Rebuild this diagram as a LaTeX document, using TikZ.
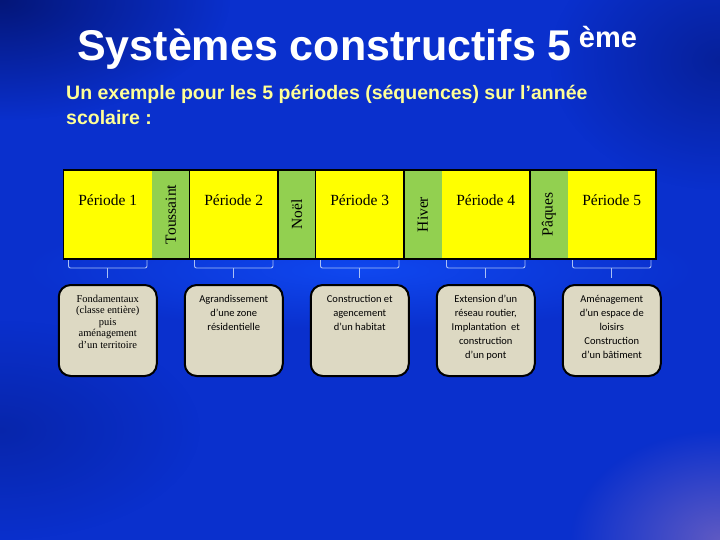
\documentclass[tikz,border=0pt]{standalone}
\usepackage{xcolor}
\usepackage{fontspec}
\usepackage{tikz}
\usetikzlibrary{calc}
\usetikzlibrary{positioning}
\usetikzlibrary{fadings}

\setmainfont{Liberation Sans}
\newfontfamily\cellfont{Liberation Serif}
\newfontfamily\boxfont{Carlito}

\definecolor{bgdark}{RGB}{4,22,120}
\definecolor{bgside}{RGB}{10,48,205}
\definecolor{bgbright}{RGB}{18,82,255}
\definecolor{bgpurple}{RGB}{95,90,195}
\definecolor{subyellow}{RGB}{255,255,150}
\definecolor{cellyellow}{RGB}{255,255,0}
\definecolor{cellgreen}{RGB}{146,208,80}
\definecolor{boxbeige}{RGB}{221,217,195}
\definecolor{bracketblue}{RGB}{170,192,245}

\tikzfading[name=glow, inner color=transparent!0, outer color=transparent!100]

\begin{document}
\begin{tikzpicture}[
		x=1pt,
		y=1pt,
		font=\fontsize{10pt}{12pt}\selectfont,
	]
		\tikzset{periodcell/.style={
			fill=cellyellow,
			anchor=north west,
			minimum width=88.5,
			minimum height=89,
			inner sep=0,
			outer sep=0,
		}}
		\tikzset{breakcell/.style={
			fill=cellgreen,
			anchor=north west,
			minimum width=37.5,
			minimum height=89,
			inner sep=0,
			outer sep=0,
		}}
		\tikzset{periodlabel/.style={
			anchor=base,
			inner sep=0,
			font=\cellfont\fontsize{15.5pt}{16pt}\selectfont,
		}}
		\tikzset{breaklabel/.style={
			rotate=90,
			inner sep=0,
			font=\cellfont\fontsize{15.5pt}{16pt}\selectfont,
		}}
		\tikzset{taskbox/.style={
			draw,
			line width=2,
			rounded corners=12,
			fill=boxbeige,
			minimum width=98,
			minimum height=91,
			inner sep=0,
		}}
		\tikzset{tasktext/.style={
			align=center,
			inner sep=0,
			font=\boxfont\fontsize{10.5pt}{14pt}\selectfont,
		}}
		\tikzset{bracket/.style={
			draw=bracketblue,
			line width=0.9,
			rounded corners=2,
		}}

		%---------------------------------
		% Background
		\useasboundingbox (0,0) rectangle (720,-540);
		\shade[
			left color=bgside,
			middle color=bgbright,
			right color=bgside,
		] (0,0) rectangle (720,-540);
		\fill[bgdark, path fading=glow] (0,0) ellipse (230 and 120);
		\fill[bgdark, path fading=glow, opacity=0.6] (720,-60) ellipse (170 and 130);
		\fill[bgdark, path fading=glow, opacity=0.4] (0,-430) ellipse (200 and 110);
		\fill[bgpurple, path fading=glow] (720,-540) ellipse (150 and 110);
		\fill[bgbright, path fading=glow, opacity=0.7] (360,-270) ellipse (340 and 60);

		%---------------------------------
		% Title
		\node[
			anchor=base west,
			inner sep=0,
			text=white,
			font=\fontsize{43pt}{43pt}\selectfont\bfseries,
		] (title) at (77,-61) {Systèmes constructifs 5\kern7pt\raisebox{13pt}{\fontsize{29pt}{29pt}\selectfont ème}};

		\node[
			anchor=base west,
			inner sep=0,
			align=left,
			text=subyellow,
			font=\fontsize{19.5pt}{25pt}\selectfont\bfseries,
		] (subtitle) at (66,-125) {Un exemple pour les 5 périodes (séquences) sur l’année\\scolaire :};

		%---------------------------------
		% Year
		\node[periodcell] (per1) at (63.5,-170) {};
		\node[breakcell] (tous) at (per1.north east) {};
		\node[periodcell] (per2) at (tous.north east) {};
		\node[breakcell] (noel) at (per2.north east) {};
		\node[periodcell] (per3) at (noel.north east) {};
		\node[breakcell] (hiver) at (per3.north east) {};
		\node[periodcell] (per4) at (hiver.north east) {};
		\node[breakcell] (paques) at (per4.north east) {};
		\node[periodcell] (per5) at (paques.north east) {};

		\draw[line width=1.3] (per1.north west) rectangle (per5.south east);
		\draw[line width=1.3] (tous.north east) -- (tous.south east);
		\draw[line width=1.3] (noel.north west) -- (noel.south west);
		\draw[line width=1.3] (noel.north east) -- (noel.south east);
		\draw[line width=1.3] (hiver.north west) -- (hiver.south west);
		\draw[line width=1.3] (paques.north west) -- (paques.south west);

		\node[periodlabel] (per1label) at ([yshift=-36]per1.north) {Période 1};
		\node[periodlabel] (per2label) at ([yshift=-36]per2.north) {Période 2};
		\node[periodlabel] (per3label) at ([yshift=-36]per3.north) {Période 3};
		\node[periodlabel] (per4label) at ([yshift=-36]per4.north) {Période 4};
		\node[periodlabel] (per5label) at ([yshift=-36]per5.north) {Période 5};

		\node[breaklabel] (touslabel) at (tous) {Toussaint};
		\node[breaklabel] (noellabel) at (noel) {Noël};
		\node[breaklabel] (hiverlabel) at (hiver) {Hiver};
		\node[breaklabel] (paqueslabel) at (paques) {Pâques};

		%---------------------------------
		% Projects
		\node[taskbox, below=25pt of per1] (box1) {};
		\node[taskbox, below=25pt of per2] (box2) {};
		\node[taskbox, below=25pt of per3] (box3) {};
		\node[taskbox, below=25pt of per4] (box4) {};
		\node[taskbox, below=25pt of per5] (box5) {};

		\node[
			tasktext,
			below=11pt of box1.north,
			font=\cellfont\fontsize{10.5pt}{11.5pt}\selectfont,
		] (task1) {Fondamentaux\\(classe entière)\\puis\\aménagement\\d’un territoire};
		\node[tasktext, below=11pt of box2.north] (task2) {Agrandissement\\d’une zone\\résidentielle};
		\node[tasktext, below=11pt of box3.north] (task3) {Construction et\\agencement\\d’un habitat};
		\node[tasktext, below=11pt of box4.north] (task4) {Extension d’un\\réseau routier,\\Implantation\ \ et\\construction\\d’un pont};
		\node[tasktext, below=11pt of box5.north] (task5) {Aménagement\\d’un espace de\\loisirs\\Construction\\d’un bâtiment};

		% brackets
		\draw[bracket] ([xshift=5,yshift=-1]per1.south west) |- ([yshift=-9]per1.south) -| ([xshift=-5,yshift=-1]per1.south east);
		\draw[bracket] ([xshift=5,yshift=-1]per2.south west) |- ([yshift=-9]per2.south) -| ([xshift=-5,yshift=-1]per2.south east);
		\draw[bracket] ([xshift=5,yshift=-1]per3.south west) |- ([yshift=-9]per3.south) -| ([xshift=-5,yshift=-1]per3.south east);
		\draw[bracket] ([xshift=5,yshift=-1]per4.south west) |- ([yshift=-9]per4.south) -| ([xshift=-5,yshift=-1]per4.south east);
		\draw[bracket] ([xshift=5,yshift=-1]per5.south west) |- ([yshift=-9]per5.south) -| ([xshift=-5,yshift=-1]per5.south east);

		\draw[bracket] ([yshift=-9]per1.south) -- ([yshift=6]box1.north);
		\draw[bracket] ([yshift=-9]per2.south) -- ([yshift=6]box2.north);
		\draw[bracket] ([yshift=-9]per3.south) -- ([yshift=6]box3.north);
		\draw[bracket] ([yshift=-9]per4.south) -- ([yshift=6]box4.north);
		\draw[bracket] ([yshift=-9]per5.south) -- ([yshift=6]box5.north);
	\end{tikzpicture}
\end{document}
